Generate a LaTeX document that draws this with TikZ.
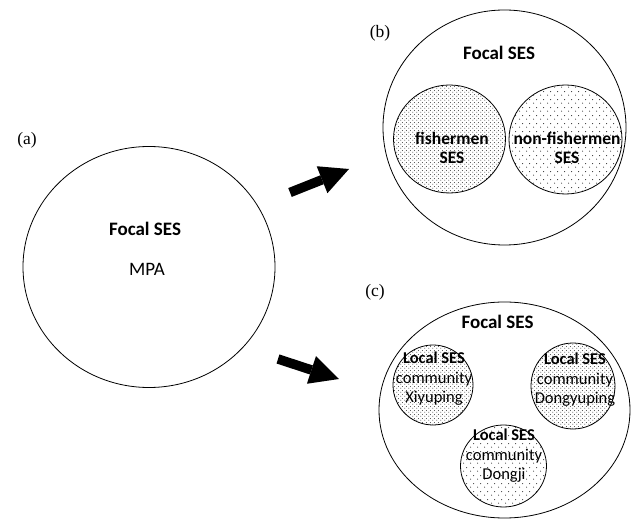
\documentclass[tikz,border=0pt]{standalone}
\usepackage{fontspec}
\setmainfont{Liberation Serif}
\newfontfamily\calfont{Carlito}
\usetikzlibrary{shapes.geometric,arrows.meta,patterns}
\pgfdeclarepatternformonly{densedots}{\pgfqpoint{0pt}{0pt}}{\pgfqpoint{4pt}{4pt}}{\pgfqpoint{4pt}{4pt}}{%
  \pgfpathcircle{\pgfqpoint{1pt}{1pt}}{0.6pt}%
  \pgfpathcircle{\pgfqpoint{3pt}{3pt}}{0.6pt}%
  \pgfusepath{fill}}
\pgfdeclarepatternformonly{sparsedots}{\pgfqpoint{0pt}{0pt}}{\pgfqpoint{7pt}{8pt}}{\pgfqpoint{7pt}{8pt}}{%
  \pgfpathcircle{\pgfqpoint{1.75pt}{2pt}}{0.6pt}%
  \pgfpathcircle{\pgfqpoint{5.25pt}{6pt}}{0.6pt}%
  \pgfusepath{fill}}
\begin{document}
\begin{tikzpicture}[x=1pt,y=-1pt,
  ring/.style={draw, ellipse, inner sep=0pt, line width=0.8pt},
  densering/.style={ring, pattern=densedots, pattern color=black!85},
  sparsering/.style={ring, pattern=sparsedots, pattern color=black!80},
  paneltag/.style={font=\fontsize{17.5}{20}\selectfont},
  focaltxt/.style={font=\calfont\bfseries\fontsize{19}{22}\selectfont},
  plaintxt/.style={font=\calfont\fontsize{19}{22}\selectfont},
  subtxt/.style={font=\calfont\bfseries\fontsize{17.5}{19.5}\selectfont, align=center, inner sep=0pt},
  localtxt/.style={font=\calfont\fontsize{16.5}{19.5}\selectfont, align=center, inner sep=0pt},
  bigarrow/.style={line width=9.5pt, -{Triangle[length=29pt,width=29pt,line width=0pt]}}]
\useasboundingbox (0,0) rectangle (638,521);
\fill[white] (0,0) rectangle (638,521);

% panel (a)
\node[paneltag] (taga) at (27,140) {(a)};
\node[ring, minimum width=252pt, minimum height=241pt] (A) at (149,267) {};
\node[focaltxt] (focala) at (145,229) {Focal SES};
\node[plaintxt] (mpa) at (147,269) {MPA};

% panel (b)
\node[paneltag] (tagb) at (380,33) {(b)};
\node[ring, minimum width=243pt, minimum height=235pt] (B) at (504.5,127.5) {};
\node[focaltxt] (focalb) at (499,52.5) {Focal SES};
\node[densering, minimum width=112pt, minimum height=108pt] (fish) at (449.5,139) {};
\node[sparsering, minimum width=113pt, minimum height=109pt] (nonfish) at (565.5,139.5) {};
\node[subtxt] (fishtxt) at (452,148) {fishermen\\SES};
\node[subtxt] (nonfishtxt) at (567,148) {non-fishermen\\SES};

% panel (c)
\node[paneltag] (tagc) at (375,292) {(c)};
\node[ring, minimum width=251pt, minimum height=216pt] (C) at (504.5,410) {};
\node[focaltxt] (focalc) at (497.5,322) {Focal SES};
\node[densering, minimum width=80pt, minimum height=80pt] (xiy) at (433,385) {};
\node[densering, minimum width=84pt, minimum height=86pt] (dongy) at (573,386) {};
\node[sparsering, minimum width=86pt, minimum height=82pt] (dongji) at (503.5,466) {};
\node[localtxt] (xiytxt) at (434,379) {\textbf{Local SES}\\community\\Xiyuping};
\node[localtxt] (dongytxt) at (575,380) {\textbf{Local SES}\\community\\Dongyuping};
\node[localtxt] (dongjitxt) at (504,456) {\textbf{Local SES}\\community\\Dongji};

% arrows
\coordinate (up1) at (290,192.5);
\coordinate (up2) at (349,169);
\coordinate (dn1) at (278,359);
\coordinate (dn2) at (339,379);
\draw[bigarrow] (up1) -- (up2);
\draw[bigarrow] (dn1) -- (dn2);
\end{tikzpicture}
\end{document}
